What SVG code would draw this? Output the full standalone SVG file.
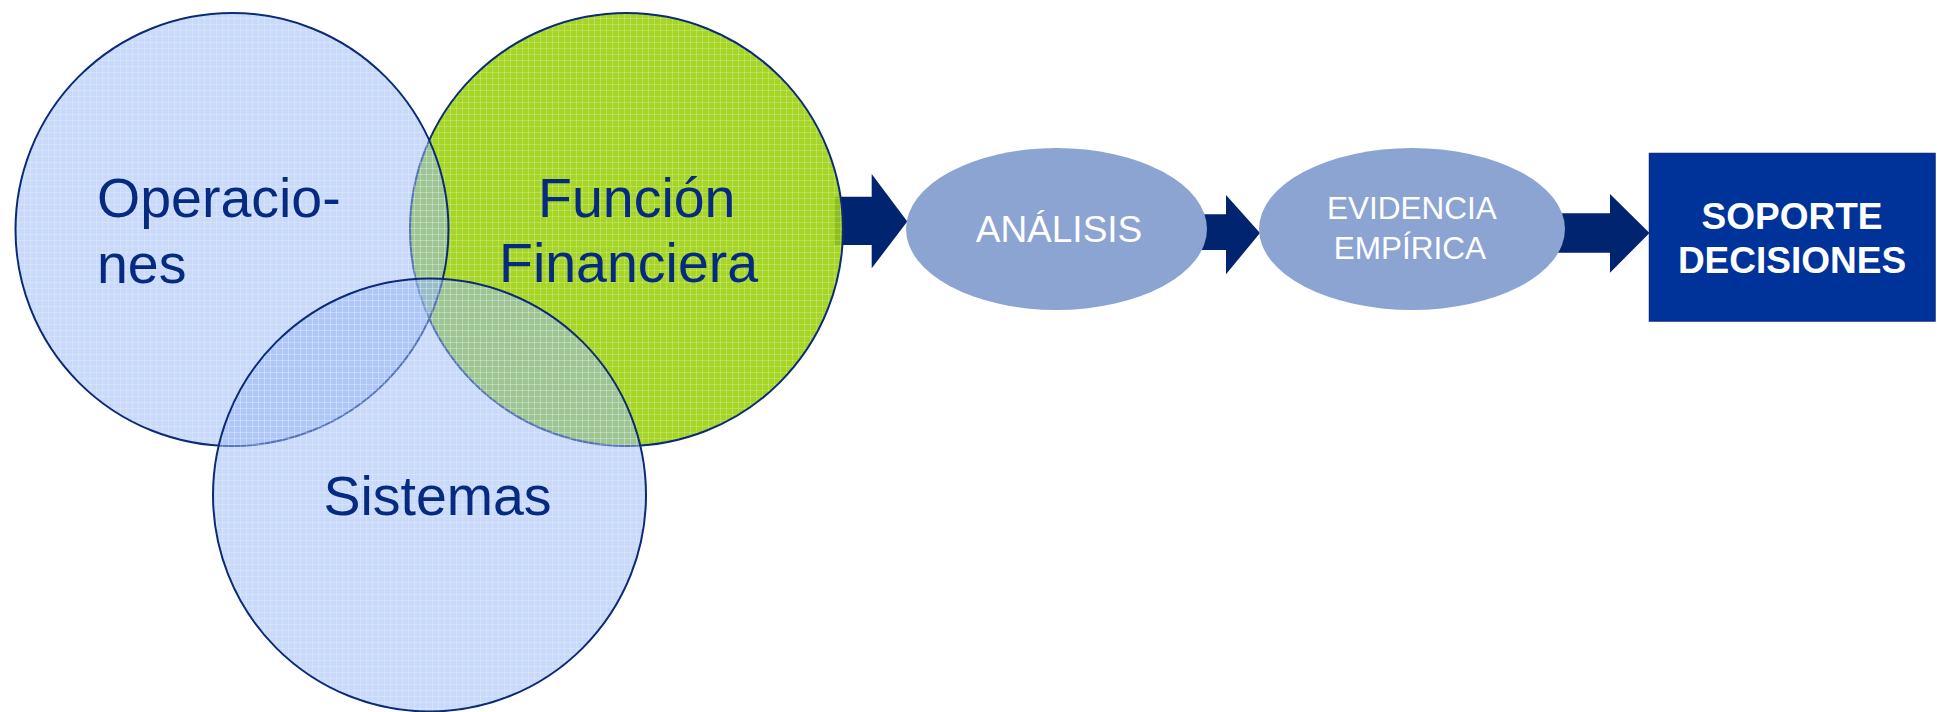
<svg xmlns="http://www.w3.org/2000/svg" width="1937" height="712" viewBox="0 0 1937 712">
  <style>
    .venn-blue { fill: #96B6F3; fill-opacity: 0.52; stroke: #0B2A78; stroke-width: 2; }
    .venn-green { fill: #9BD00D; fill-opacity: 0.9; stroke: #0B2A78; stroke-width: 2; }
    .tex { fill: url(#tex); stroke: none; }
    .big { font-family: "Liberation Sans", Arial, sans-serif; font-size: 55.5px; fill: #062A80; }
    .oval { fill: #8BA4D2; }
    .oval-text { font-family: "Liberation Sans", Arial, sans-serif; fill: #FFFFFF; text-anchor: middle; }
    .arrow { fill: #012470; }
    .box { fill: #003399; stroke: #0C2D86; stroke-width: 1.5; }
    .box-text { font-family: "Liberation Sans", Arial, sans-serif; font-weight: bold; font-size: 37px; fill: #FFFFFF; text-anchor: middle; }
  </style>
  <defs>
    <pattern id="tex" width="6" height="6" patternUnits="userSpaceOnUse">
      <path d="M0 0.5 H6 M0.5 0 V6" stroke="#FFFFFF" stroke-opacity="0.22" stroke-width="1" fill="none"/>
    </pattern>
  </defs>

  <rect width="1937" height="712" fill="#FFFFFF"/>

  <g id="connectors">
    <polygon class="arrow" points="834,196.7 871.7,196.7 871.7,174 907.3,221.5 871.7,268.3 871.7,245 834,245"/>
    <polygon class="arrow" points="1200,214.3 1226,214.3 1226,195 1260,233 1226,274.3 1226,250 1200,250"/>
    <polygon class="arrow" points="1555,213.3 1610,213.3 1610,194 1649.5,233 1610,272.7 1610,252.7 1555,252.7"/>
  </g>

  <g id="funcion-financiera">
    <circle class="venn-green" cx="626.5" cy="229.5" r="216.5"/>
    <circle class="tex" cx="626.5" cy="229.5" r="215.5"/>
    <text class="big" x="538" y="217">Función</text>
    <text class="big" x="499" y="282">Financiera</text>
  </g>

  <g id="operaciones">
    <circle class="venn-blue" cx="232" cy="229.5" r="216.5"/>
    <circle class="tex" cx="232" cy="229.5" r="215.5"/>
    <text class="big" x="97" y="217">Operacio-</text>
    <text class="big" x="97" y="283">nes</text>
  </g>

  <g id="sistemas">
    <circle class="venn-blue" cx="429.5" cy="495" r="216.5"/>
    <circle class="tex" cx="429.5" cy="495" r="215.5"/>
    <text class="big" x="437.5" y="515" text-anchor="middle">Sistemas</text>
  </g>

  <g id="analisis">
    <ellipse class="oval" cx="1056.5" cy="229" rx="150.5" ry="81"/>
    <text class="oval-text" x="1059" y="242" font-size="37">ANÁLISIS</text>
  </g>

  <g id="evidencia-empirica">
    <ellipse class="oval" cx="1412" cy="229" rx="153" ry="81"/>
    <text class="oval-text" x="1412" y="219" font-size="31.5">EVIDENCIA</text>
    <text class="oval-text" x="1410" y="259" font-size="31.5">EMPÍRICA</text>
  </g>

  <g id="soporte-decisiones">
    <rect class="box" x="1649.5" y="153.5" width="285.5" height="167.5"/>
    <text class="box-text" x="1792" y="229.3">SOPORTE</text>
    <text class="box-text" x="1792" y="273.3">DECISIONES</text>
  </g>
</svg>
